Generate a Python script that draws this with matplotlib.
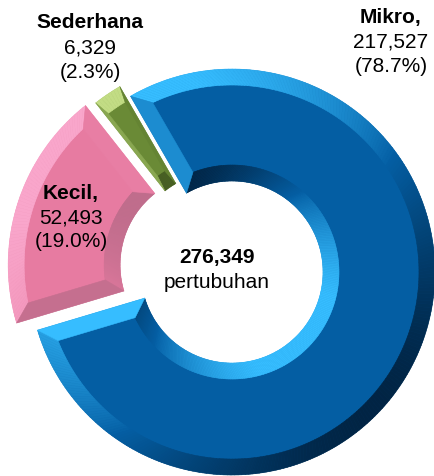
import numpy as np
import matplotlib
matplotlib.use("Agg")
import matplotlib.pyplot as plt
from matplotlib.collections import PolyCollection
from matplotlib.colors import to_rgb

plt.rcParams['font.family'] = ['Liberation Sans', 'DejaVu Sans']

# data
labels = ["Mikro,", "Kecil,", "Sederhana"]
counts = [217527, 52493, 6329]
pcts = [78.7, 19.0, 2.3]
total_label = "276,349"
unit_label = "pertubuhan"

# styling
explode_px = [6, 16, 9]
face_cols = ["#045ea3", "#e77ba1", "#6a8a36"]
light_cols = ["#36bdff", "#f9a6cb", "#c2dc84"]
dark_cols = ["#001a33", "#b86a88", "#40561f"]
label_pos = [(391, 17), (71, 193), (90, 23)]   # pixel coords, top line

W, H = 434, 477
R, HOLE, BEV = 203, 91, 16
LIGHT = np.deg2rad(135)

fig = plt.figure(figsize=(W / 100, H / 100), dpi=100)
ax = fig.add_axes([0, 0, 1, 1])

wedges, _ = ax.pie(counts, radius=R, center=(226.4, 206.2), startangle=120,
                   counterclock=False, explode=explode_px, colors=face_cols,
                   wedgeprops=dict(width=R - HOLE, linewidth=0))


def mix(a, b, t):
    a, b = np.array(to_rgb(a)), np.array(to_rgb(b))
    return tuple(a + (b - a) * t)


def shade(i, normal_ang):
    s = np.cos(normal_ang - LIGHT) + 0.15
    s = float(np.clip(s, -1, 1))
    if s >= 0:
        return mix(face_cols[i], light_cols[i], s ** 0.8)
    return mix(face_cols[i], dark_cols[i], -s)


def pt(c, r, a):
    return (c[0] + r * np.cos(a), c[1] + r * np.sin(a))


# bevel faces on top of each pie wedge
for i, w in enumerate(wedges):
    c = w.center
    t1, t2 = np.deg2rad(w.theta1), np.deg2rad(w.theta2)
    r_out, r_in = w.r, w.r - w.width
    half = (t2 - t1) / 2
    be = min(BEV, 0.5 * r_in * np.sin(half))
    ro, ri = r_out - BEV, r_in + BEV
    do, di = np.arcsin(be / ro), np.arcsin(be / ri)
    n = max(int(np.degrees(t2 - t1)), 4)
    u = np.linspace(0, 1, n + 1)
    polys, cols = [], []
    # outer arc
    a_out = t1 + u * (t2 - t1)
    a_ins = (t1 + do) + u * ((t2 - do) - (t1 + do))
    for k in range(n):
        polys.append([pt(c, r_out, a_out[k]), pt(c, r_out, a_out[k + 1]),
                      pt(c, ro, a_ins[k + 1]), pt(c, ro, a_ins[k])])
        cols.append(shade(i, (a_out[k] + a_out[k + 1]) / 2))
    # inner arc
    a_ins = (t1 + di) + u * ((t2 - di) - (t1 + di))
    for k in range(n):
        polys.append([pt(c, r_in, a_out[k]), pt(c, r_in, a_out[k + 1]),
                      pt(c, ri, a_ins[k + 1]), pt(c, ri, a_ins[k])])
        cols.append(shade(i, (a_out[k] + a_out[k + 1]) / 2 + np.pi))
    # radial ends
    polys.append([pt(c, r_out, t1), pt(c, ro, t1 + do), pt(c, ri, t1 + di), pt(c, r_in, t1)])
    cols.append(shade(i, t1 - np.pi / 2))
    polys.append([pt(c, r_out, t2), pt(c, ro, t2 - do), pt(c, ri, t2 - di), pt(c, r_in, t2)])
    cols.append(shade(i, t2 + np.pi / 2))
    ax.add_collection(PolyCollection(polys, facecolors=cols, edgecolors=cols,
                                     linewidths=0.4, zorder=3))

# labels
for i, (x, y) in enumerate(label_pos):
    ax.text(x, H - y, labels[i], ha='center', va='center', fontsize=15,
            fontweight='bold', zorder=5)
    ax.text(x, H - y - 24.5, f"{counts[i]:,}", ha='center', va='center',
            fontsize=15, zorder=5)
    ax.text(x, H - y - 49, f"({pcts[i]:.1f}%)", ha='center', va='center',
            fontsize=15, zorder=5)

ax.text(217, H - 258, total_label, ha='center', va='center', fontsize=15,
        fontweight='bold', zorder=5)
ax.text(217, H - 283, unit_label, ha='center', va='center', fontsize=15, zorder=5)

ax.set_xlim(0, W)
ax.set_ylim(0, H)
ax.set_aspect('equal')
ax.axis('off')

fig.savefig("out.png", dpi=100)
